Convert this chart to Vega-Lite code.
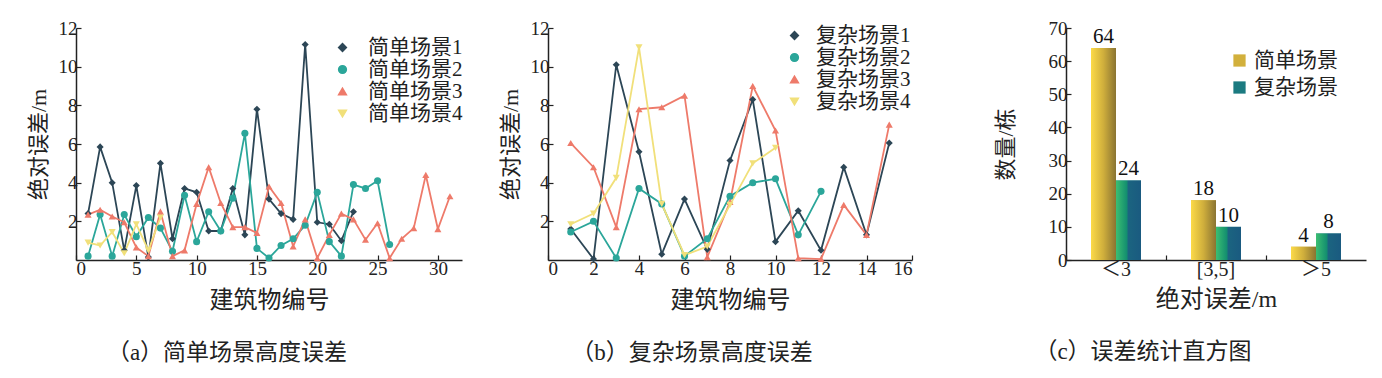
{
  "$schema": "https://vega.github.io/schema/vega-lite/v6.json",
  "background": "white",
  "padding": {"left": 27, "top": 19, "right": 5, "bottom": 5},
  "spacing": 81,
  "datasets": {
    "a": [
      {"id":1,"s":"简单场景1","v":2.4},{"id":2,"s":"简单场景1","v":5.85},{"id":3,"s":"简单场景1","v":4.0},{"id":4,"s":"简单场景1","v":0.5},{"id":5,"s":"简单场景1","v":3.85},{"id":6,"s":"简单场景1","v":0.15},{"id":7,"s":"简单场景1","v":5.0},{"id":8,"s":"简单场景1","v":1.1},{"id":9,"s":"简单场景1","v":3.7},{"id":10,"s":"简单场景1","v":3.5},{"id":11,"s":"简单场景1","v":1.5},{"id":12,"s":"简单场景1","v":1.5},{"id":13,"s":"简单场景1","v":3.7},{"id":14,"s":"简单场景1","v":1.3},{"id":15,"s":"简单场景1","v":7.8},{"id":16,"s":"简单场景1","v":3.15},{"id":17,"s":"简单场景1","v":2.4},{"id":18,"s":"简单场景1","v":2.1},{"id":19,"s":"简单场景1","v":11.15},{"id":20,"s":"简单场景1","v":1.95},{"id":21,"s":"简单场景1","v":1.85},{"id":22,"s":"简单场景1","v":1.0},{"id":23,"s":"简单场景1","v":2.5},
      {"id":1,"s":"简单场景2","v":0.2},{"id":2,"s":"简单场景2","v":2.35},{"id":3,"s":"简单场景2","v":0.2},{"id":4,"s":"简单场景2","v":2.35},{"id":5,"s":"简单场景2","v":1.2},{"id":6,"s":"简单场景2","v":2.2},{"id":7,"s":"简单场景2","v":1.65},{"id":8,"s":"简单场景2","v":0.45},{"id":9,"s":"简单场景2","v":3.35},{"id":10,"s":"简单场景2","v":0.95},{"id":11,"s":"简单场景2","v":2.5},{"id":12,"s":"简单场景2","v":1.5},{"id":13,"s":"简单场景2","v":3.2},{"id":14,"s":"简单场景2","v":6.55},{"id":15,"s":"简单场景2","v":0.6},{"id":16,"s":"简单场景2","v":0.1},{"id":17,"s":"简单场景2","v":0.75},{"id":18,"s":"简单场景2","v":1.1},{"id":19,"s":"简单场景2","v":1.8},{"id":20,"s":"简单场景2","v":3.5},{"id":21,"s":"简单场景2","v":0.95},{"id":22,"s":"简单场景2","v":0.2},{"id":23,"s":"简单场景2","v":3.9},{"id":24,"s":"简单场景2","v":3.7},{"id":25,"s":"简单场景2","v":4.1},{"id":26,"s":"简单场景2","v":0.8},
      {"id":1,"s":"简单场景3","v":2.35},{"id":2,"s":"简单场景3","v":2.6},{"id":3,"s":"简单场景3","v":2.25},{"id":4,"s":"简单场景3","v":1.95},{"id":5,"s":"简单场景3","v":0.65},{"id":6,"s":"简单场景3","v":0.2},{"id":7,"s":"简单场景3","v":2.5},{"id":8,"s":"简单场景3","v":0.2},{"id":9,"s":"简单场景3","v":0.5},{"id":10,"s":"简单场景3","v":2.9},{"id":11,"s":"简单场景3","v":4.8},{"id":12,"s":"简单场景3","v":2.95},{"id":13,"s":"简单场景3","v":1.7},{"id":14,"s":"简单场景3","v":1.7},{"id":15,"s":"简单场景3","v":1.4},{"id":16,"s":"简单场景3","v":3.8},{"id":17,"s":"简单场景3","v":2.95},{"id":18,"s":"简单场景3","v":0.7},{"id":19,"s":"简单场景3","v":2.1},{"id":20,"s":"简单场景3","v":0.1},{"id":21,"s":"简单场景3","v":1.3},{"id":22,"s":"简单场景3","v":2.4},{"id":23,"s":"简单场景3","v":2.1},{"id":24,"s":"简单场景3","v":1.05},{"id":25,"s":"简单场景3","v":1.9},{"id":26,"s":"简单场景3","v":0.1},{"id":27,"s":"简单场景3","v":1.1},{"id":28,"s":"简单场景3","v":1.65},{"id":29,"s":"简单场景3","v":4.4},{"id":30,"s":"简单场景3","v":1.6},{"id":31,"s":"简单场景3","v":3.3},
      {"id":1,"s":"简单场景4","v":0.9},{"id":2,"s":"简单场景4","v":0.75},{"id":3,"s":"简单场景4","v":1.45},{"id":4,"s":"简单场景4","v":0.35},{"id":5,"s":"简单场景4","v":1.85},{"id":6,"s":"简单场景4","v":0.5},{"id":7,"s":"简单场景4","v":2.2}
    ],
    "b": [
      {"id":1,"s":"复杂场景1","v":1.6},{"id":2,"s":"复杂场景1","v":0.05},{"id":3,"s":"复杂场景1","v":10.1},{"id":4,"s":"复杂场景1","v":5.6},{"id":5,"s":"复杂场景1","v":0.3},{"id":6,"s":"复杂场景1","v":3.15},{"id":7,"s":"复杂场景1","v":0.55},{"id":8,"s":"复杂场景1","v":5.15},{"id":9,"s":"复杂场景1","v":8.3},{"id":10,"s":"复杂场景1","v":0.95},{"id":11,"s":"复杂场景1","v":2.55},{"id":12,"s":"复杂场景1","v":0.5},{"id":13,"s":"复杂场景1","v":4.8},{"id":14,"s":"复杂场景1","v":1.3},{"id":15,"s":"复杂场景1","v":6.05},
      {"id":1,"s":"复杂场景2","v":1.45},{"id":2,"s":"复杂场景2","v":2.0},{"id":3,"s":"复杂场景2","v":0.1},{"id":4,"s":"复杂场景2","v":3.7},{"id":5,"s":"复杂场景2","v":2.9},{"id":6,"s":"复杂场景2","v":0.2},{"id":7,"s":"复杂场景2","v":1.1},{"id":8,"s":"复杂场景2","v":3.3},{"id":9,"s":"复杂场景2","v":4.0},{"id":10,"s":"复杂场景2","v":4.2},{"id":11,"s":"复杂场景2","v":1.3},{"id":12,"s":"复杂场景2","v":3.55},
      {"id":1,"s":"复杂场景3","v":6.05},{"id":2,"s":"复杂场景3","v":4.8},{"id":3,"s":"复杂场景3","v":1.7},{"id":4,"s":"复杂场景3","v":7.8},{"id":5,"s":"复杂场景3","v":7.9},{"id":6,"s":"复杂场景3","v":8.5},{"id":7,"s":"复杂场景3","v":0.15},{"id":8,"s":"复杂场景3","v":3.0},{"id":9,"s":"复杂场景3","v":9.0},{"id":10,"s":"复杂场景3","v":6.7},{"id":11,"s":"复杂场景3","v":0.1},{"id":12,"s":"复杂场景3","v":0.05},{"id":13,"s":"复杂场景3","v":2.85},{"id":14,"s":"复杂场景3","v":1.3},{"id":15,"s":"复杂场景3","v":7.0},
      {"id":1,"s":"复杂场景4","v":1.85},{"id":2,"s":"复杂场景4","v":2.4},{"id":3,"s":"复杂场景4","v":4.25},{"id":4,"s":"复杂场景4","v":11.0},{"id":5,"s":"复杂场景4","v":2.9},{"id":6,"s":"复杂场景4","v":0.25},{"id":7,"s":"复杂场景4","v":0.7},{"id":8,"s":"复杂场景4","v":2.85},{"id":9,"s":"复杂场景4","v":5.0},{"id":10,"s":"复杂场景4","v":5.8}
    ],
    "c": [
      {"cat":"＜3","s":"简单场景","n":64},{"cat":"＜3","s":"复杂场景","n":24},
      {"cat":"[3,5]","s":"简单场景","n":18},{"cat":"[3,5]","s":"复杂场景","n":10},
      {"cat":"＞5","s":"简单场景","n":4},{"cat":"＞5","s":"复杂场景","n":8}
    ]
  },
  "resolve": {"scale": {"color": "independent", "shape": "independent", "x": "independent", "y": "independent", "xOffset": "independent"}, "legend": {"color": "independent", "shape": "independent"}},
  "hconcat": [
    {
      "spacing": 36,
      "resolve": {"scale": {"color": "independent", "shape": "independent", "x": "independent", "y": "independent"}, "legend": {"color": "independent", "shape": "independent"}},
      "hconcat": [
        {
          "width": 386, "height": 232,
          "data": {"name": "a"},
          "title": {"text": "（a）简单场景高度误差", "orient": "bottom", "frame": "group", "dx": -42, "offset": 30},
          "encoding": {
            "x": {"field": "id", "type": "quantitative", "scale": {"domain": [0, 32], "nice": false}, "axis": {"values": [0,5,10,15,20,25,30], "title": "建筑物编号", "titlePadding": 10}},
            "y": {"field": "v", "type": "quantitative", "scale": {"domain": [0, 12], "nice": false}, "axis": {"values": [2,4,6,8,10,12], "title": "绝对误差/m", "titlePadding": 8}},
            "color": {"field": "s", "type": "nominal", "scale": {"domain": ["简单场景1","简单场景2","简单场景3","简单场景4"], "range": ["#2c4656","#2ba69a","#ee7a6a","#f1e07a"]}, "legend": {"title": null, "orient": "none", "legendX": 256, "legendY": 9, "labelOffset": 15}}
          },
          "layer": [
            {"mark": {"type": "line", "strokeWidth": 1.8}},
            {"mark": {"type": "point", "filled": true, "size": 50, "opacity": 1}, "encoding": {
              "shape": {"field": "s", "type": "nominal", "scale": {"domain": ["简单场景1","简单场景2","简单场景3","简单场景4"], "range": ["diamond","circle","triangle-up","triangle-down"]}, "legend": {"title": null, "orient": "none", "legendX": 256, "legendY": 9, "labelOffset": 15}}
            }}
          ]
        },
        {
          "width": 364, "height": 232,
          "data": {"name": "b"},
          "title": {"text": "（b）复杂场景高度误差", "orient": "bottom", "frame": "group", "dx": -38, "offset": 30},
          "encoding": {
            "x": {"field": "id", "type": "quantitative", "scale": {"domain": [0, 16], "nice": false}, "axis": {"values": [0,2,4,6,8,10,12,14,16], "title": "建筑物编号", "titlePadding": 10}},
            "y": {"field": "v", "type": "quantitative", "scale": {"domain": [0, 12], "nice": false}, "axis": {"values": [2,4,6,8,10,12], "title": "绝对误差/m", "titlePadding": 8}},
            "color": {"field": "s", "type": "nominal", "scale": {"domain": ["复杂场景1","复杂场景2","复杂场景3","复杂场景4"], "range": ["#2c4656","#2ba69a","#ee7a6a","#f1e07a"]}, "legend": {"title": null, "orient": "none", "legendX": 236, "legendY": -3, "labelOffset": 11}}
          },
          "layer": [
            {"mark": {"type": "line", "strokeWidth": 1.8}},
            {"mark": {"type": "point", "filled": true, "size": 50, "opacity": 1}, "encoding": {
              "shape": {"field": "s", "type": "nominal", "scale": {"domain": ["复杂场景1","复杂场景2","复杂场景3","复杂场景4"], "range": ["diamond","circle","triangle-up","triangle-down"]}, "legend": {"title": null, "orient": "none", "legendX": 236, "legendY": -3, "labelOffset": 11}}
            }}
          ]
        }
      ]
    },
    {
      "width": 300, "height": 232,
      "data": {"name": "c"},
      "title": {"text": "（c）误差统计直方图", "orient": "bottom", "frame": "group", "dx": -73, "offset": 30},
      "encoding": {
        "x": {"field": "cat", "type": "nominal", "sort": ["＜3","[3,5]","＞5"], "scale": {"paddingInner": 0, "paddingOuter": 0}, "axis": {"title": "绝对误差/m", "labelAngle": 0, "bandPosition": 0, "titlePadding": 8, "labelFontSize": 20}},
        "xOffset": {"field": "s", "type": "nominal", "scale": {"domain": ["简单场景","复杂场景"], "paddingInner": 0, "paddingOuter": 1.04}},
        "y": {"field": "n", "type": "quantitative", "scale": {"domain": [0, 70], "nice": false}, "axis": {"values": [0,10,20,30,40,50,60,70], "title": "数量/栋", "titlePadding": 31}}
      },
      "layer": [
        {"mark": {"type": "bar"}, "encoding": {"color": {"field": "s", "type": "nominal", "scale": {"domain": ["简单场景","复杂场景"], "range": ["#d2b03c","#1b7a80"]}, "legend": {"title": null, "orient": "none", "legendX": 163, "legendY": 22, "symbolType": "square", "symbolSize": 150, "rowPadding": 5, "labelOffset": 4}}}},
        {"transform": [{"filter": "datum.s === '简单场景'"}], "mark": {"type": "bar", "color": {"gradient": "linear", "x1": 0, "y1": 0, "x2": 1, "y2": 0, "stops": [{"offset": 0, "color": "#fcda48"}, {"offset": 0.5, "color": "#cfae3c"}, {"offset": 1, "color": "#8a7432"}]}}},
        {"transform": [{"filter": "datum.s === '复杂场景'"}], "mark": {"type": "bar", "color": {"gradient": "linear", "x1": 0, "y1": 0, "x2": 1, "y2": 0, "stops": [{"offset": 0, "color": "#3cbf72"}, {"offset": 0.42, "color": "#14906f"}, {"offset": 0.5, "color": "#1b6480"}, {"offset": 1, "color": "#1a5a80"}]}}},
        {"mark": {"type": "text", "baseline": "bottom", "dy": -1, "font": "Liberation Serif", "fontSize": 21, "color": "#111"}, "encoding": {"text": {"field": "n", "type": "quantitative"}}}
      ]
    }
  ],
  "config": {
    "view": {"stroke": null},
    "font": "Liberation Serif, Noto Sans CJK SC",
    "axis": {"labelFont": "Liberation Serif, Noto Sans CJK SC", "labelFontSize": 19, "labelColor": "#222", "titleFont": "Liberation Serif, Noto Sans CJK SC", "titleFontSize": 22, "titleFontWeight": "normal", "titleColor": "#222", "domainColor": "#222", "domainWidth": 1.5, "tickColor": "#222", "tickSize": -5, "tickWidth": 1.2, "labelPadding": 4, "grid": false},
    "axisX": {"titleFontSize": 24},
    "legend": {"labelFont": "Liberation Serif, Noto Sans CJK SC", "labelFontSize": 21, "labelColor": "#222", "symbolSize": 60, "rowPadding": 0, "labelOffset": 6},
    "title": {"font": "Liberation Serif, Noto Sans CJK SC", "fontSize": 23, "fontWeight": "normal", "color": "#222"}
  }
}
